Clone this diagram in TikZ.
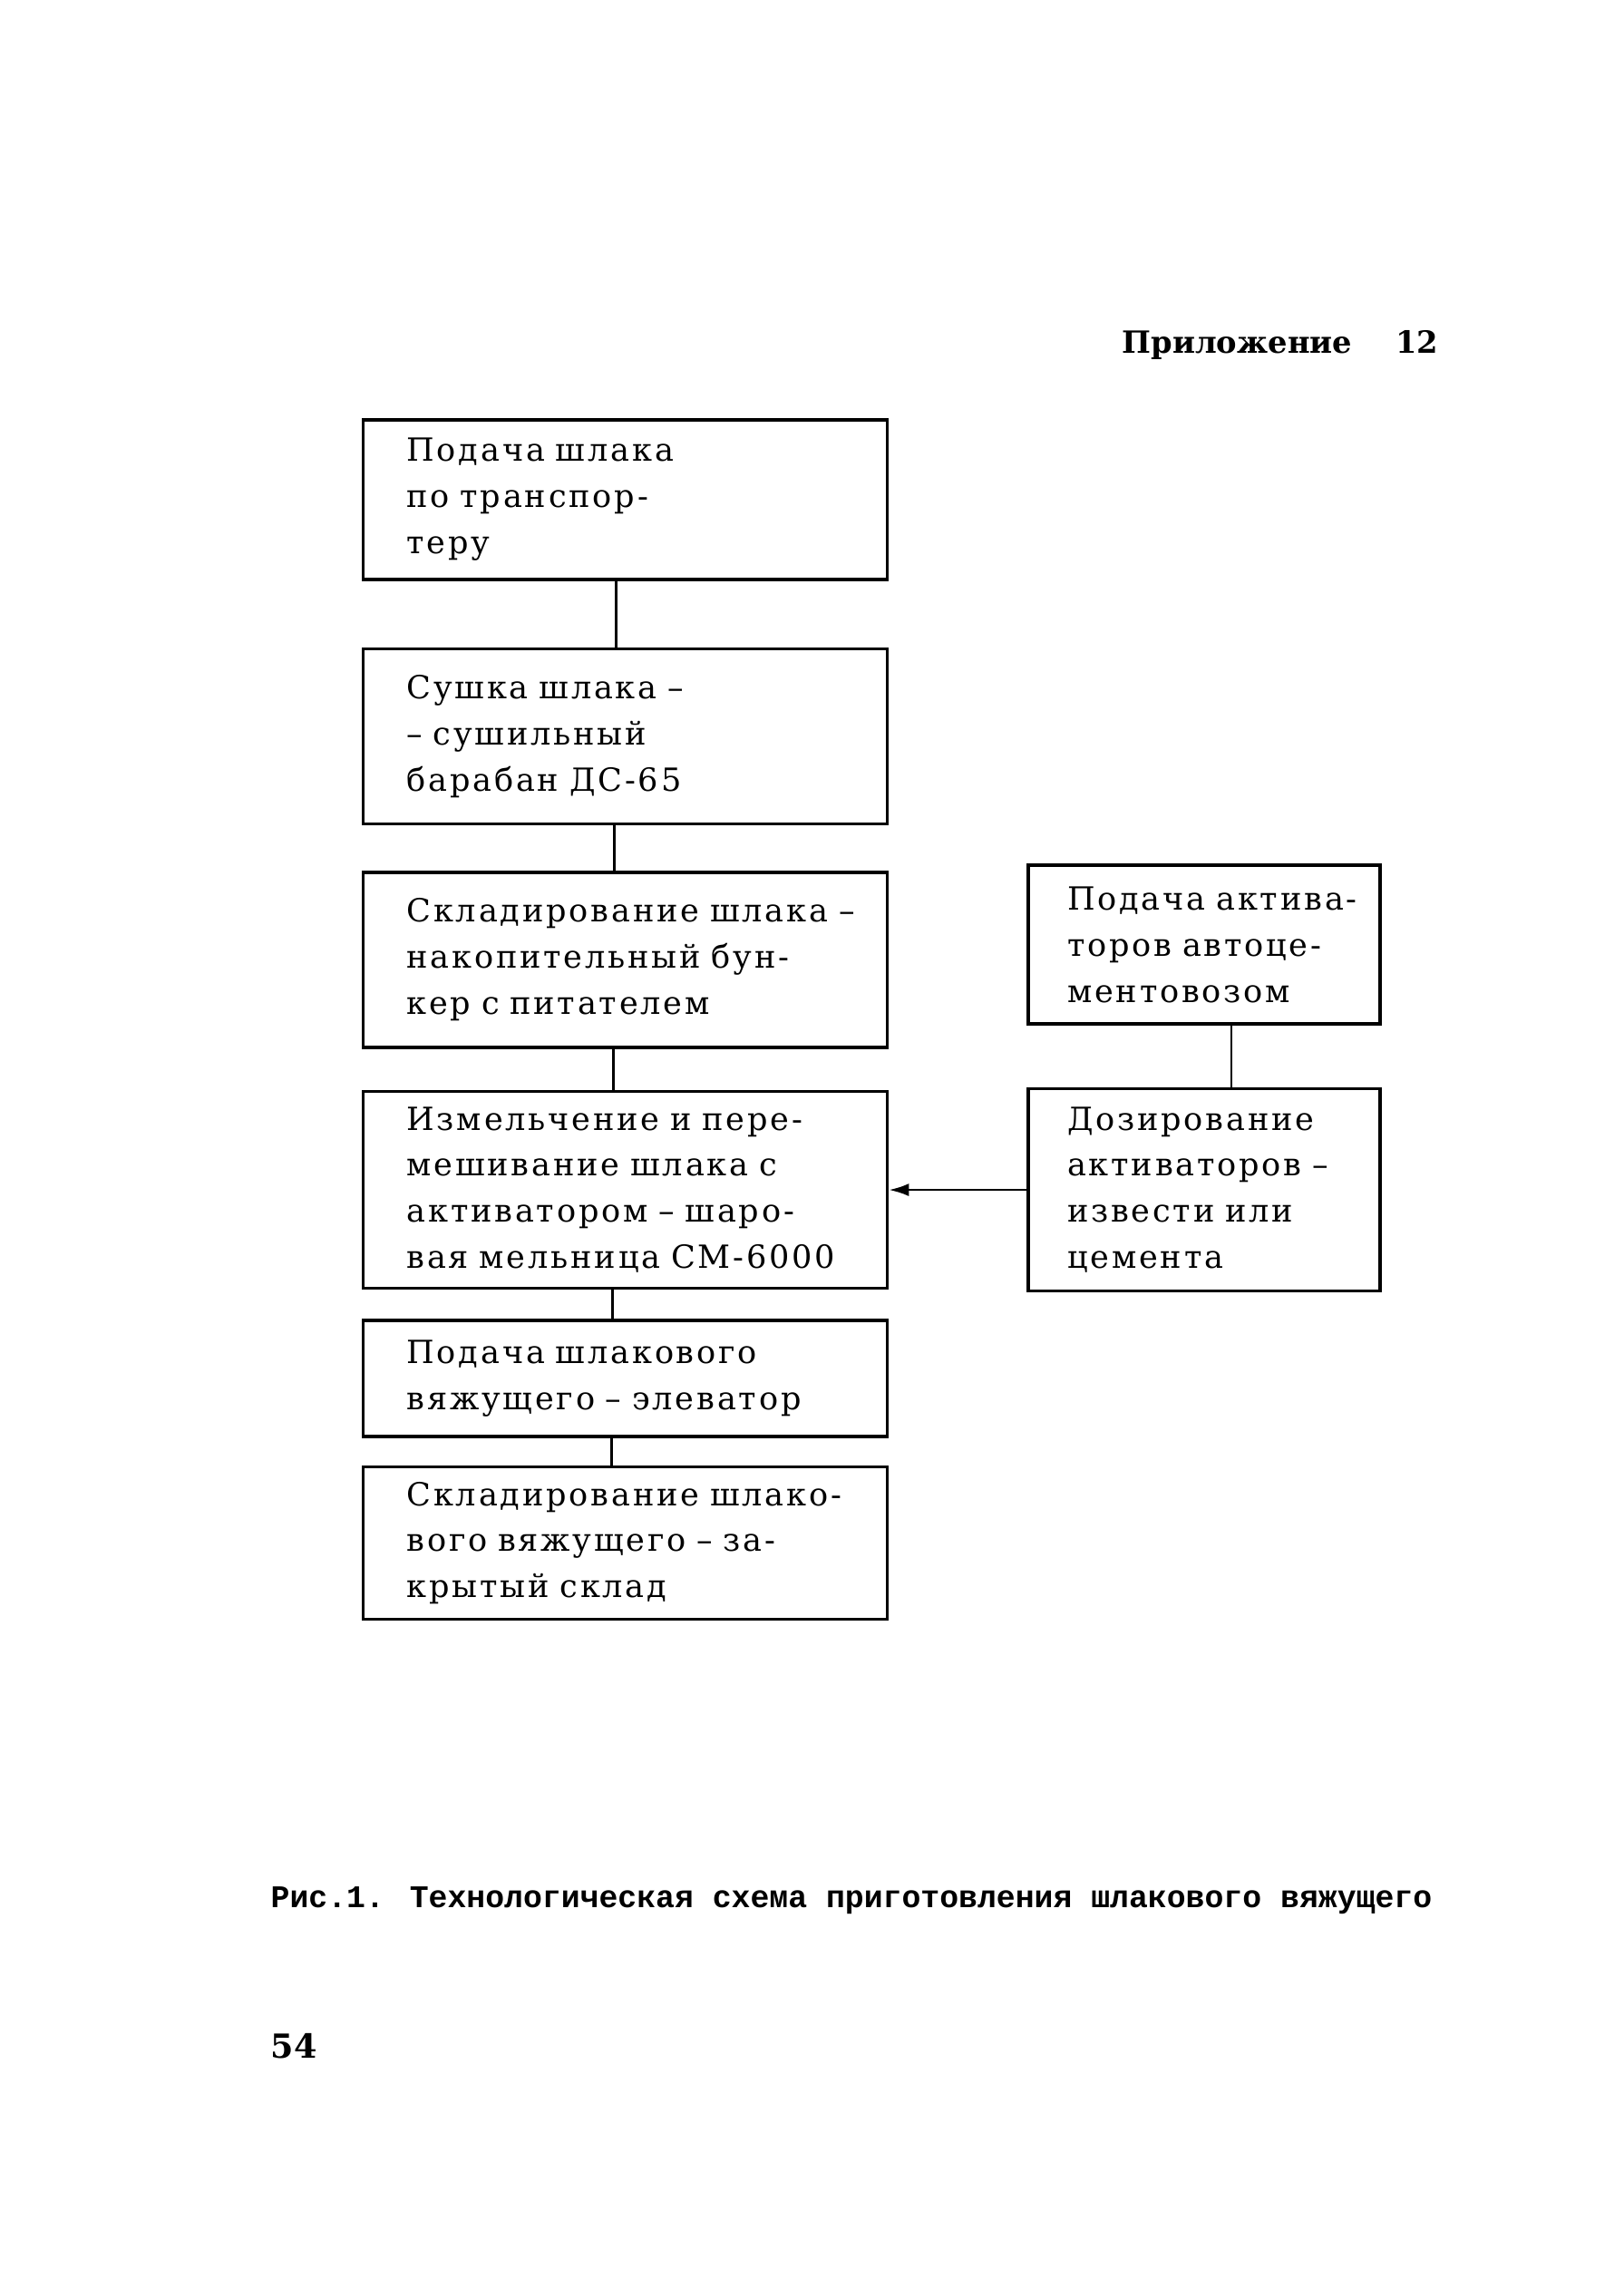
\documentclass[tikz,border=0pt]{standalone}
\usepackage{fontspec}
\setmainfont{Liberation Mono}
\newfontfamily\twfont[LetterSpace=8]{DejaVu Serif}
\newfontfamily\hdfont{DejaVu Serif}
\usepackage{tikz}
\usetikzlibrary{
    arrows.meta,
    positioning
}
\newcommand{\boxfont}{\twfont\fontsize{10}{14.5}\selectfont}
\tikzset{
  block/.style  = {draw, line width=1pt, minimum width=57.8mm,
                   text width=56.8mm, inner xsep=0.5mm, align=left,
                   font=\boxfont,
                   execute at begin node={\leftskip=4.3mm\rightskip=-2mm plus 1fil}},
  sblock/.style = {draw, line width=1pt, minimum width=38.8mm,
                   text width=37.8mm, inner xsep=0.5mm, align=left,
                   font=\boxfont,
                   execute at begin node={\leftskip=3.8mm\rightskip=-2mm plus 1fil}},
  lnk/.style    = {line width=0.7pt},
  arr/.style    = {-{Latex[length=2.2mm,width=1.4mm]}, line width=0.8pt}
}

\begin{document}
\begin{tikzpicture}
    \useasboundingbox (0,0) rectangle (17.91,-25.02);

    \node[anchor=west, inner sep=0pt, font=\hdfont\bfseries\fontsize{9.6}{12}\selectfont] (app) at (12.37,-3.80)
        {Приложение\hspace{4.8mm}12};

    \node[block, minimum height=17.6mm] (sup) at (6.895,-5.51)
        {Подача шлака\\ по транспор-\\теру};
    \node[block, minimum height=19.3mm, below=7.3mm of sup] (dry)
        {Сушка шлака –\\– сушильный\\барабан ДС-65};
    \node[block, minimum height=19.3mm, below=5.0mm of dry] (bun)
        {Складирование шлака –\\накопительный бун-\\кер с питателем};
    \node[block, minimum height=21.7mm, below=4.5mm of bun] (mill)
        {Измельчение и пере-\\мешивание шлака с\\активатором – шаро-\\вая мельница СМ-6000};
    \node[block, minimum height=12.8mm, below=3.2mm of mill] (elv)
        {Подача шлакового\\вяжущего – элеватор};
    \node[block, minimum height=16.8mm, below=3.0mm of elv] (skl)
        {Складирование шлако-\\вого вяжущего – за-\\крытый склад};

    \node[sblock, minimum height=22.3mm, right=15.2mm of mill] (dos)
        {Дозирование\\активаторов –\\извести или\\цемента};
    \node[sblock, minimum height=17.5mm, above=6.8mm of dos] (act)
        {Подача актива-\\торов автоце-\\ментовозом};

    \draw[lnk] ([xshift=-1mm]sup.south) -- ([xshift=-1mm]dry.north);
    \draw[lnk] ([xshift=-1.2mm]dry.south) -- ([xshift=-1.2mm]bun.north);
    \draw[lnk] ([xshift=-1.3mm]bun.south) -- ([xshift=-1.3mm]mill.north);
    \draw[lnk] ([xshift=-1.4mm]mill.south) -- ([xshift=-1.4mm]elv.north);
    \draw[lnk] ([xshift=-1.5mm]elv.south) -- ([xshift=-1.5mm]skl.north);
    \draw[lnk] ([xshift=3mm]act.south) -- ([xshift=3mm]dos.north);
    \draw[arr] (dos.west) -- (dos.west -| mill.east);

    \node[anchor=west, inner sep=0pt, font=\bfseries\fontsize{9.9}{12}\selectfont] (cap) at (2.98,-20.96)
        {Рис.1. Технологическая схема приготовления шлакового вяжущего};
    \node[anchor=west, inner sep=0pt, font=\hdfont\bfseries\fontsize{10.4}{12}\selectfont] (pg) at (2.98,-22.56) {54};
\end{tikzpicture}
\end{document}
